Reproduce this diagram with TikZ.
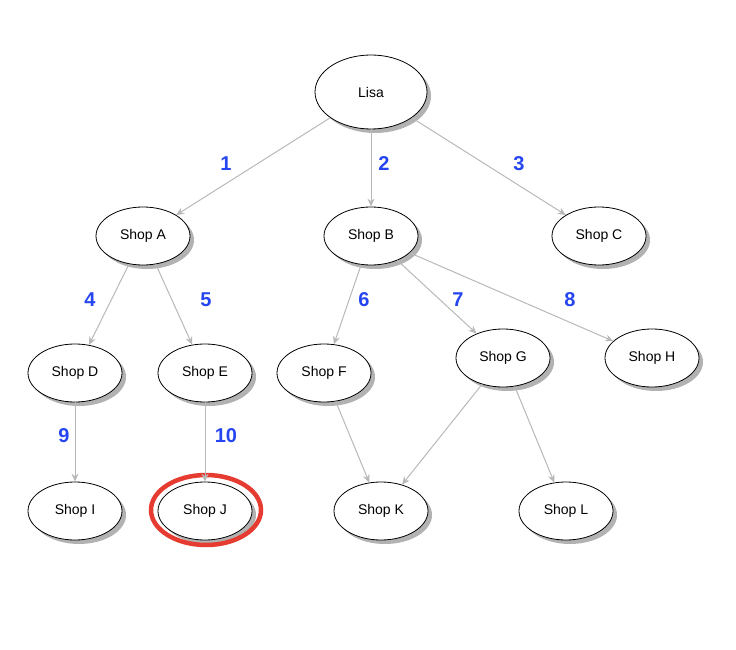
\documentclass[tikz,border=0pt]{standalone}
\usepackage{fontspec}
\setmainfont{Liberation Sans}
\usetikzlibrary{shapes.geometric,arrows.meta,shadows}
\definecolor{ringred}{HTML}{E53B30}
\definecolor{numblue}{HTML}{2545F0}
\begin{document}
\begin{tikzpicture}[x=1pt,y=-1pt,
  shop/.style={ellipse,draw,line width=0.8pt,fill=white,minimum width=94pt,minimum height=58pt,inner sep=0pt,font=\fontsize{14}{16}\selectfont,
    drop shadow={shadow xshift=4pt,shadow yshift=-4pt,fill=black!30,opacity=1}},
  edge/.style={draw=black!28,line width=1pt,-{Stealth[length=8pt,width=7pt]}},
  num/.style={text=numblue,font=\bfseries\fontsize{20}{22}\selectfont}]
\useasboundingbox (0,0) rectangle (736,650);
\node[shop,minimum width=112pt,minimum height=74pt] (lisa) at (371,92) {Lisa};
\node[shop] (a) at (143,236) {Shop A};
\node[shop] (b) at (371,236) {Shop B};
\node[shop] (c) at (599,236) {Shop C};
\node[shop] (d) at (75,373) {Shop D};
\node[shop] (e) at (205,373) {Shop E};
\node[shop] (f) at (324,373) {Shop F};
\node[shop] (g) at (503,358) {Shop G};
\node[shop] (h) at (652,358) {Shop H};
\node[shop] (i) at (75,511) {Shop I};
\node[shop] (j) at (205,511) {Shop J};
\node[shop] (k) at (381,511) {Shop K};
\node[shop] (l) at (566,511) {Shop L};
\node[ellipse,draw=ringred,line width=4.5pt,minimum width=110pt,minimum height=70pt] (ring) at (206,510) {};
\draw[edge] (lisa) -- (a);
\draw[edge] (lisa) -- (b);
\draw[edge] (lisa) -- (c);
\draw[edge] (a) -- (d);
\draw[edge] (a) -- (e);
\draw[edge] (b) -- (f);
\draw[edge] (b) -- (g);
\draw[edge] (b) -- (h);
\draw[edge] (d) -- (i);
\draw[edge] (e) -- (j);
\draw[edge] (f) -- (k);
\draw[edge] (g) -- (k);
\draw[edge] (g) -- (l);
\node[num] (n1) at (226,164) {1};
\node[num] (n2) at (384,164) {2};
\node[num] (n3) at (519,164) {3};
\node[num] (n4) at (90,300) {4};
\node[num] (n5) at (206,300) {5};
\node[num] (n6) at (364,300) {6};
\node[num] (n7) at (458,300) {7};
\node[num] (n8) at (570,300) {8};
\node[num] (n9) at (64,436) {9};
\node[num] (n10) at (226,436) {10};
\end{tikzpicture}
\end{document}
